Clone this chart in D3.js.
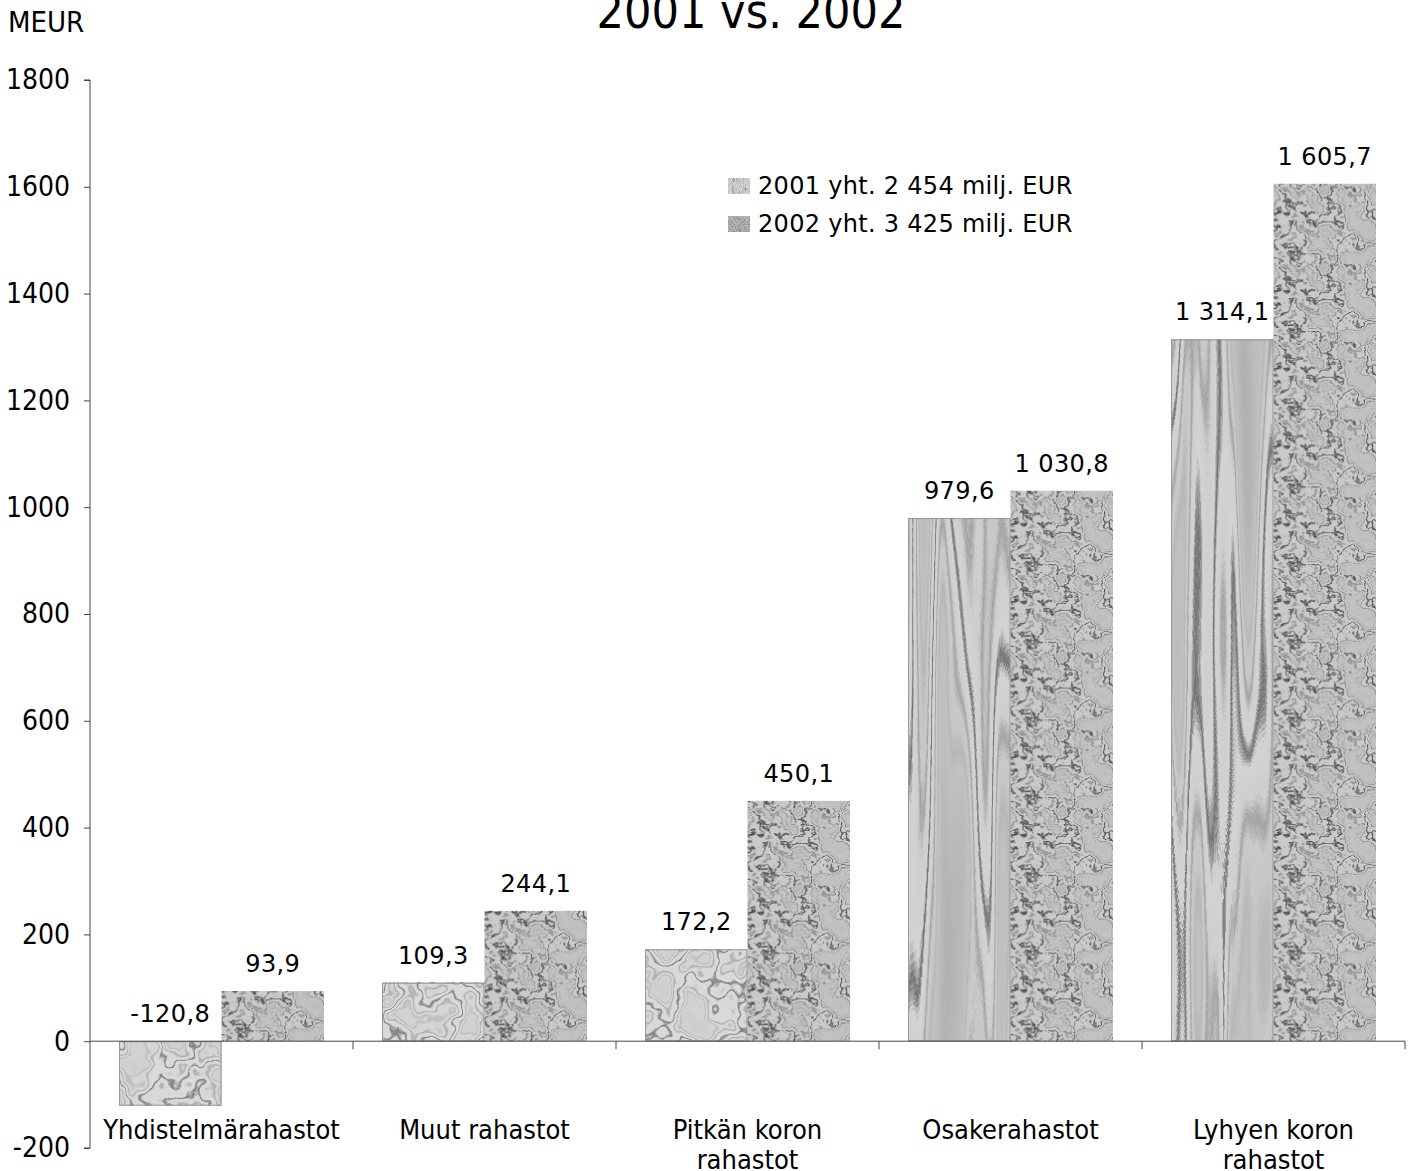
<!DOCTYPE html>
<html>
<head>
<meta charset="utf-8">
<script src="https://cdn.jsdelivr.net/npm/d3@7"></script>
<style>
  body { margin: 0; background: #fff; }
  text { fill: #000; }
</style>
</head>
<body>
<div id="container"></div>
<script>
// data
const categories = [["Yhdistelmärahastot"], ["Muut rahastot"], ["Pitkän koron", "rahastot"], ["Osakerahastot"], ["Lyhyen koron", "rahastot"]];
const values2001 = [-120.8, 109.3, 172.2, 979.6, 1314.1];
const values2002 = [93.9, 244.1, 450.1, 1030.8, 1605.7];
const seriesNames = ["2001 yht. 2 454 milj. EUR", "2002 yht. 3 425 milj. EUR"];
const yTicks = [-200, 0, 200, 400, 600, 800, 1000, 1200, 1400, 1600, 1800];

const width = 1412;
const height = 1171;
const font = "'DejaVu Sans', Verdana, sans-serif";
const narrow = "'DejaVu Sans Condensed', 'DejaVu Sans', sans-serif";

const fi = d3.formatLocale({decimal: ",", thousands: " ", grouping: [3], currency: ["", " €"], minus: "-"});
const fmt = fi.format(",.1f");

const svg = d3.create("svg")
    .attr("width", width)
    .attr("height", height);

const defs = svg.append("defs");

// scales
const x = d3.scaleBand()
    .domain(d3.range(categories.length))
    .range([90, 1405]);

const xs = d3.scaleBand()
    .domain([0, 1])
    .range([0, x.bandwidth()])
    .paddingOuter(0.283);

const y = d3.scaleLinear()
    .domain([-200, 1800])
    .range([1148, 80]);

// title + unit
svg.append("text")
  .attr("x", 751).attr("y", 28)
  .attr("text-anchor", "middle")
  .style("font-family", narrow)
  .style("font-size", "48px")
  .text("2001 vs. 2002");

svg.append("text")
  .attr("x", 8).attr("y", 32)
  .style("font-family", narrow)
  .style("font-size", "29px")
  .text("MEUR");

// marble filter helper: dark contour lines of a noise field
function marble(id, fx, fy, seed, light, dark, octaves, spread) {
  const f = defs.append("filter")
    .attr("id", id)
    .attr("x", 0).attr("y", 0).attr("width", 1).attr("height", 1)
    .attr("color-interpolation-filters", "sRGB");
  f.append("feTurbulence")
    .attr("type", "fractalNoise")
    .attr("baseFrequency", fx + " " + fy)
    .attr("numOctaves", octaves || 4)
    .attr("seed", seed);
  f.append("feColorMatrix")
    .attr("type", "matrix")
    .attr("values", "1 0 0 0 0  1 0 0 0 0  1 0 0 0 0  0 0 0 0 1");
  const n = 40, t = [];
  const sp = spread || 0.08;
  for (let k = 0; k < n; k++) {
    let v = light - sp * Math.abs(k - n / 2) / (n / 2);
    if (k === 20) v = dark;
    if (k === 16 || k === 24) v = (dark + light) / 2;
    if (k === 13 || k === 27) v = light - 0.12;
    t.push(v.toFixed(3));
  }
  const ct = f.append("feComponentTransfer");
  ["feFuncR", "feFuncG", "feFuncB"].forEach(c =>
    ct.append(c).attr("type", "table").attr("tableValues", t.join(" ")));
  return "url(#" + id + ")";
}

// 2001 bars: one stretched picture per bar
const bars2001 = svg.append("g");
values2001.forEach((v, i) => {
  const h = Math.abs(y(v) - y(0));
  const tall = h > 200;
  const flt = tall
    ? marble("m01_" + i, 0.03, 0.0015, 7 + i, 0.84, 0.45, 2, 0.2)
    : marble("m01_" + i, 0.025, 0.025, 7 + i, 0.86, 0.5, 3);
  const bx = x(i) + xs(0);
  bars2001.append("rect")
    .attr("x", bx).attr("y", Math.min(y(v), y(0)))
    .attr("width", xs.bandwidth()).attr("height", h)
    .attr("fill", "#ccc")
    .attr("filter", flt);
  bars2001.append("rect")
    .attr("x", bx + 0.5).attr("y", Math.min(y(v), y(0)) + 0.5)
    .attr("width", xs.bandwidth() - 1).attr("height", h - 1)
    .attr("fill", "none")
    .attr("stroke", "#999").attr("stroke-width", 1);
});

// 2002 bars: tiled picture, tiles aligned on zero line
const tileH = y(0) - y(145.5);
const tile = defs.append("g").attr("id", "tile2002");
tile.append("rect")
  .attr("width", xs.bandwidth()).attr("height", tileH)
  .attr("fill", "#aaa")
  .attr("filter", marble("m02", 0.03, 0.035, 21, 0.8, 0.28, 5));
values2002.forEach((v, i) => {
  const bx = x(i) + xs(1);
  const p = defs.append("pattern")
    .attr("id", "p02_" + i)
    .attr("patternUnits", "userSpaceOnUse")
    .attr("x", bx).attr("y", y(0))
    .attr("width", xs.bandwidth()).attr("height", tileH);
  p.append("use").attr("href", "#tile2002");
  svg.append("rect")
    .attr("x", bx).attr("y", Math.min(y(v), y(0)))
    .attr("width", xs.bandwidth()).attr("height", Math.abs(y(v) - y(0)))
    .attr("fill", "url(#p02_" + i + ")");
});

// y axis
const yAxis = svg.append("g")
  .attr("transform", "translate(90,0)")
  .call(d3.axisLeft(y).tickValues(yTicks).tickSize(6).tickPadding(14).tickFormat(d => String(d)));
yAxis.select(".domain").attr("stroke", "#444").attr("d", "M-6," + y(1800) + "H0V" + y(-200) + "H-6");
yAxis.selectAll(".tick line").attr("stroke", "#444");
yAxis.selectAll("text")
  .style("font-family", narrow)
  .style("font-size", "28px")
  .attr("fill", "#000");

// x axis on zero line
const xa = svg.append("g");
xa.append("line")
  .attr("x1", 90).attr("x2", 1405)
  .attr("y1", y(0)).attr("y2", y(0))
  .attr("stroke", "#444");
xa.selectAll("line.t")
  .data(d3.range(1, categories.length + 1))
  .join("line")
  .attr("class", "t")
  .attr("x1", d => d === categories.length ? 1405 : x(d))
  .attr("x2", d => d === categories.length ? 1405 : x(d))
  .attr("y1", y(0)).attr("y2", y(0) + 8)
  .attr("stroke", "#444");

// category labels
categories.forEach((lines, i) => {
  const t = svg.append("text")
    .attr("text-anchor", "middle")
    .style("font-family", narrow)
    .style("font-size", "27px");
  lines.forEach((s, k) => {
    t.append("tspan")
      .attr("x", x(i) + x.bandwidth() / 2)
      .attr("y", 1139 + k * 30)
      .text(s);
  });
});

// value labels
[values2001, values2002].forEach((vals, s) => {
  svg.append("g").selectAll("text")
    .data(vals)
    .join("text")
    .attr("x", (d, i) => x(i) + xs(s) + xs.bandwidth() / 2)
    .attr("y", d => y(Math.max(0, d)) - 19)
    .attr("text-anchor", "middle")
    .style("font-family", font)
    .style("font-size", "24px")
    .style("letter-spacing", "0.4px")
    .text(d => fmt(d));
});

// legend
const lg = svg.append("g");
seriesNames.forEach((name, i) => {
  const ly = 186 + i * 38;
  lg.append("rect")
    .attr("x", 728).attr("y", ly - 8).attr("width", 22).attr("height", 16)
    .attr("fill", "#bbb")
    .attr("filter", i === 0 ? marble("lg0", 0.15, 0.06, 3, 0.84, 0.6, 3) : marble("lg1", 0.2, 0.2, 5, 0.72, 0.45, 3));
  lg.append("text")
    .attr("x", 758).attr("y", ly + 8)
    .style("font-family", font)
    .style("font-size", "24px")
    .style("letter-spacing", "0.3px")
    .text(name);
});

container.append(svg.node());
</script>
</body>
</html>
